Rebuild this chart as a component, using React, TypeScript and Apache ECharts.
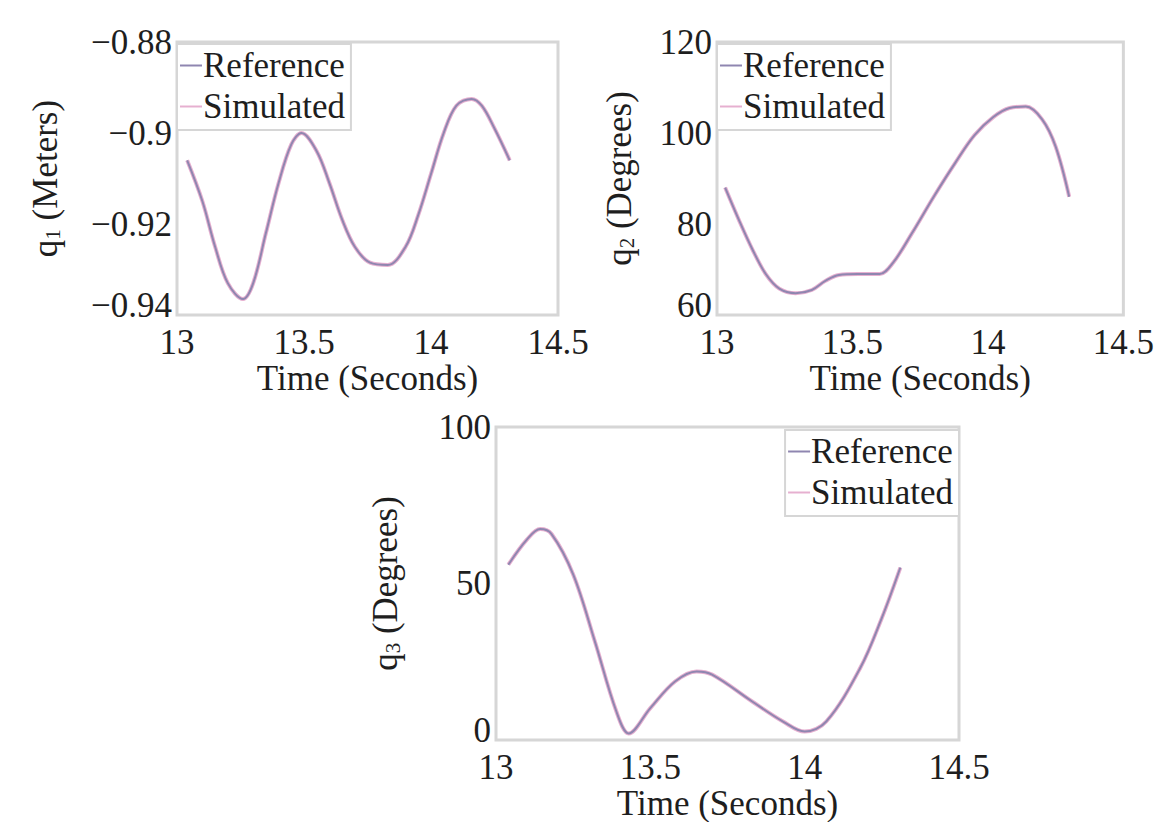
import React, { useEffect, useRef } from "react";
import * as echarts from "echarts";

// ---- Data ----
const xTicks = [13, 13.5, 14, 14.5];

const q1Time = [13.04, 13.1, 13.15, 13.2, 13.26, 13.3, 13.35, 13.4, 13.45, 13.49, 13.55, 13.6, 13.65, 13.7, 13.76, 13.83, 13.9, 13.95, 14.0, 14.05, 14.1, 14.16, 14.2, 14.25, 14.31];
const q1Ref = [-0.906, -0.915, -0.925, -0.933, -0.9365, -0.933, -0.922, -0.911, -0.9025, -0.9, -0.904, -0.911, -0.919, -0.925, -0.9285, -0.929, -0.925, -0.918, -0.909, -0.9, -0.894, -0.8925, -0.894, -0.899, -0.906];

const q2Time = [13.03, 13.08, 13.13, 13.18, 13.23, 13.29, 13.35, 13.4, 13.45, 13.52, 13.6, 13.65, 13.72, 13.8, 13.88, 13.95, 14.02, 14.08, 14.14, 14.2, 14.25, 14.3];
const q2Ref = [88, 81, 74.5, 69, 65.8, 64.8, 65.5, 67.5, 68.8, 69, 69, 71.5, 78, 86, 93.5, 99.5, 103.5, 105.5, 105.8, 103, 97, 86];

const q3Time = [13.04, 13.1, 13.143, 13.18, 13.25, 13.32, 13.39, 13.43, 13.5, 13.58, 13.65, 13.7, 13.83, 13.93, 14.0, 14.07, 14.18, 14.25, 14.31];
const q3Ref = [56, 64, 67.4, 65.8, 52.9, 31.6, 9.1, 2.1, 10.2, 18.7, 21.9, 20.9, 12.3, 5.9, 2.7, 5.9, 23, 39, 55.1];

const seriesNames = ["Reference", "Simulated"];
const yLabels1 = ["−0.94", "−0.92", "−0.9", "−0.88"];

const FONT = "'Liberation Serif', 'Times New Roman', serif";
const FS = 35;
const REF_COLOR = "#8f86b0";
const SIM_COLOR = "#e6b0d0";
const BORDER = "#d6d6d6";

function zip(t: number[], v: number[]) {
  return t.map((x, i) => [x, v[i]]);
}

function fmtNum(v: number) {
  const r = Math.round(v * 1000) / 1000;
  const s = String(Math.abs(r));
  return (r < 0 ? "−" : "") + s;
}

export default function App() {
  const ref = useRef<HTMLDivElement>(null);
  useEffect(() => {
    document.body.style.margin = "0";
    const chart = echarts.init(ref.current!, undefined, { renderer: "svg" });

    const grids = [
      { left: 177, top: 42, width: 381, height: 273 },
      { left: 717, top: 42, width: 415, height: 273 },
      { left: 496, top: 427, width: 463, height: 313 },
    ];

    const yConf = [
      { min: -0.94, max: -0.88, interval: 0.02, name: "{b|q}{s|1}{b| (Meters)}", gap: 114 },
      { min: 60, max: 120, interval: 20, name: "{b|q}{s|2}{b| (Degrees)}", gap: 80 },
      { min: 0, max: 100, interval: 50, name: "{b|q}{s|3}{b| (Degrees)}", gap: 93 },
    ];

    const textStyle = { fontFamily: FONT, fontSize: FS, color: "#1e1e1e" };

    const option: any = {
      animation: false,
      backgroundColor: "#fff",
      grid: grids.map((g) => ({ ...g, show: true, borderColor: BORDER, borderWidth: 3, backgroundColor: "#fff" })),
      xAxis: grids.map((_, i) => ({
        type: "value",
        gridIndex: i,
        min: xTicks[0],
        max: xTicks[xTicks.length - 1],
        interval: 0.5,
        name: "Time (Seconds)",
        nameLocation: "middle",
        nameGap: 32,
        nameTextStyle: textStyle,
        axisLine: { show: false },
        axisTick: { show: false },
        splitLine: { show: false },
        axisLabel: { ...textStyle, margin: 10, formatter: (v: number) => fmtNum(v) },
      })),
      yAxis: yConf.map((c, i) => ({
        type: "value",
        gridIndex: i,
        min: c.min,
        max: c.max,
        interval: c.interval,
        name: c.name,
        nameLocation: "middle",
        nameGap: c.gap,
        nameTextStyle: {
          ...textStyle,
          rich: {
            b: { fontFamily: FONT, fontSize: FS, color: "#1e1e1e" },
            s: { fontFamily: FONT, fontSize: 21, color: "#1e1e1e", lineHeight: 8, verticalAlign: "bottom" },
          },
        },
        axisLine: { show: false },
        axisTick: { show: false },
        splitLine: { show: false },
        axisLabel: {
          ...textStyle,
          margin: 5,
          rich: {
            lo: { fontFamily: FONT, fontSize: FS, color: "#1e1e1e", padding: [0, 0, 20, 0] },
          },
          formatter: (v: number) => {
            let txt = fmtNum(v);
            if (i === 0) {
              const idx = Math.round((v - c.min) / c.interval);
              txt = yLabels1[idx] ?? txt;
            }
            return Math.abs(v - c.min) < 1e-9 ? `{lo|${txt}}` : txt;
          },
        },
      })),
      legend: [
        { left: 177, top: 44 },
        { left: 717, top: 44 },
        { right: 198, top: 430 },
      ].map((pos) => ({
        ...pos,
        data: seriesNames,
        orient: "vertical",
        backgroundColor: "#fff",
        borderColor: BORDER,
        borderWidth: 2,
        padding: [4, 6, 6, 3],
        icon: "rect",
        itemWidth: 22,
        itemHeight: 2,
        itemGap: 6,
        textStyle: { fontFamily: FONT, fontSize: FS, color: "#1e1e1e", padding: [0, 0, 0, -4] },
      })),
      series: [
        [q1Time, q1Ref],
        [q2Time, q2Ref],
        [q3Time, q3Ref],
      ].flatMap(([t, v], i) => [
        {
          name: "Simulated",
          type: "line",
          xAxisIndex: i,
          yAxisIndex: i,
          data: zip(t, v),
          smooth: 0.35,
          symbol: "none",
          z: 2,
          lineStyle: { color: SIM_COLOR, width: 4 },
          itemStyle: { color: SIM_COLOR },
        },
        {
          name: "Reference",
          type: "line",
          xAxisIndex: i,
          yAxisIndex: i,
          data: zip(t, v),
          smooth: 0.35,
          symbol: "none",
          z: 3,
          lineStyle: { color: REF_COLOR, width: 2 },
          itemStyle: { color: REF_COLOR },
        },
      ]),
    };

    chart.setOption(option);
    return () => chart.dispose();
  }, []);

  return <div ref={ref} style={{ width: 1157, height: 822 }} />;
}
